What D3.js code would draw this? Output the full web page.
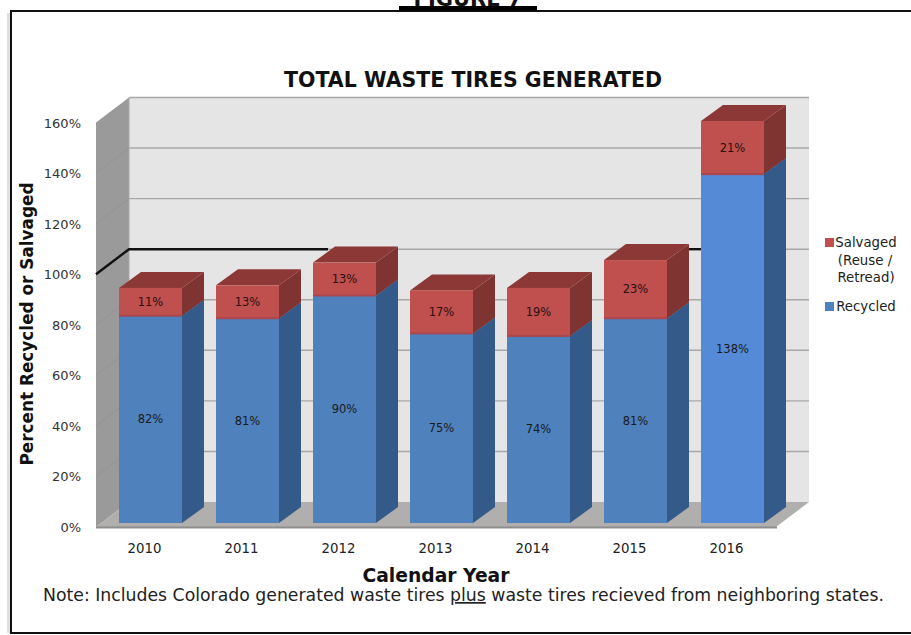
<!DOCTYPE html>
<html><head><meta charset="utf-8">
<script src="https://cdn.jsdelivr.net/npm/d3@7"></script>
<style>html,body{margin:0;padding:0;background:#fff;overflow:hidden}svg{display:block}text{font-family:"DejaVu Sans",sans-serif}</style>
</head><body><svg id="c" width="911" height="635"></svg>
<script>
const years=["2010","2011","2012","2013","2014","2015","2016"];
const recycled=[82,81,90,75,74,81,138];
const salvaged=[11,13,13,17,19,23,21];
const yTicks=[0,20,40,60,80,100,120,140,160];
const targetValue=100;
const svg=d3.select("#c");
const W={l:96,r:776};
const y=d3.scaleLinear().domain([0,160]).range([527,122.5]);
const backY=v=>y(v)-25;
const barY=v=>y(v)-4;
const x=d3.scaleBand().domain(years).range([119,764]).paddingInner(0.3505).paddingOuter(0);
const bd={x:22,y:16};
const poly=(pts,fill)=>svg.append("polygon").attr("points",pts.map(p=>p.join(",")).join(" ")).attr("fill",fill);
// frame
svg.append("rect").attr("x",7).attr("y",13).attr("width",3).attr("height",620).attr("fill","#ccc").attr("opacity",.6);
svg.append("rect").attr("x",11).attr("y",11).attr("width",910).attr("height",622).attr("fill","#fff").attr("stroke","#111").attr("stroke-width",2);
// clipped figure heading
svg.append("text").attr("x",468).attr("y",6).attr("text-anchor","middle").attr("font-size",21).attr("font-weight",700).attr("fill","#111").text("FIGURE 7");
svg.append("rect").attr("x",399).attr("y",6).attr("width",138).attr("height",4.5).attr("fill","#000");
// walls
poly([[129,y(160)-25],[809,y(160)-25],[809,backY(0)],[129,backY(0)]],"#e5e5e5");
poly([[96,y(160)],[129,y(160)-25],[129,backY(0)],[96,y(0)]],"#9a9a9a");
poly([[96,y(0)],[129,backY(0)],[809,backY(0)],[776,y(0)]],"#b0afad");
svg.append("rect").attr("x",96).attr("y",y(0)-.5).attr("width",681).attr("height",2).attr("fill","#8d8d8d");
// gridlines
yTicks.forEach(t=>{
  if(t>0) svg.append("line").attr("x1",129).attr("x2",809).attr("y1",backY(t)).attr("y2",backY(t)).attr("stroke","#a8a8a8").attr("stroke-width",1.4);
  if(t>0&&t<160&&t!==targetValue) svg.append("line").attr("x1",96).attr("x2",129).attr("y1",y(t)).attr("y2",backY(t)).attr("stroke","#8d8d8d").attr("stroke-width",.6).attr("opacity",.7);
});
svg.append("line").attr("x1",129).attr("x2",129).attr("y1",backY(160)).attr("y2",backY(0)).attr("stroke","#a8a8a8");
// 100% reference line, visible left of 2012 and between 2015/2016
const line=d3.line();
svg.append("path").attr("d",line([[96,y(targetValue)],[129,backY(targetValue)],[x("2012")+15,backY(targetValue)]])).attr("fill","none").attr("stroke","#111").attr("stroke-width",2.4);
// bars
const bw=x.bandwidth();
function box(x0,v0,v1,front,side,top){
  const y0=barY(v0),y1=barY(v1),x1=x0+bw;
  poly([[x1,y0],[x1+bd.x,y0-bd.y],[x1+bd.x,y1-bd.y],[x1,y1]],side);
  poly([[x0,y1],[x1,y1],[x1+bd.x,y1-bd.y],[x0+bd.x,y1-bd.y]],top);
  svg.append("rect").attr("x",x0).attr("y",y1).attr("width",bw).attr("height",y0-y1).attr("fill",front);
}
svg.append("path").attr("d",line([[x("2015")+bw+bd.x,backY(targetValue)],[x("2016"),backY(targetValue)]])).attr("fill","none").attr("stroke","#111").attr("stroke-width",2.4);
years.forEach((yr,i)=>{
  const x0=x(yr), r=recycled[i], s=salvaged[i];
  box(x0,0,r,i===6?"#548ad6":"#4f81bd","#345a8a","#345a8a");
  box(x0,r,r+s,"#c0504d","#7f3432","#8c3836");
  svg.append("rect").attr("x",x0).attr("y",barY(r)-1).attr("width",bw).attr("height",2).attr("fill","#a9464f");
  svg.append("text").attr("x",x0+bw/2).attr("y",barY(r/2)+4).attr("text-anchor","middle").attr("font-size",11.5).attr("fill","#1a1a1a").text(r+"%");
  svg.append("text").attr("x",x0+bw/2).attr("y",barY(r+s/2)+4).attr("text-anchor","middle").attr("font-size",11.5).attr("fill","#2a0f0f").text(s+"%");
  svg.append("text").attr("x",x0+bw/2-6).attr("y",553).attr("text-anchor","middle").attr("font-size",13.3).attr("fill","#222").text(yr);
});
// y tick labels
yTicks.forEach(t=>svg.append("text").attr("x",81).attr("y",y(t)+5).attr("text-anchor","end").attr("font-size",13).attr("fill","#333").text(t+"%"));
// titles
svg.append("text").attr("x",473).attr("y",87).attr("text-anchor","middle").attr("font-size",22).attr("font-weight",700).attr("fill","#111").attr("textLength",378).attr("lengthAdjust","spacingAndGlyphs").text("TOTAL WASTE TIRES GENERATED");
svg.append("text").attr("transform","translate(33,324) rotate(-90)").attr("text-anchor","middle").attr("font-size",18.5).attr("font-weight",700).attr("fill","#111").attr("textLength",283).attr("lengthAdjust","spacingAndGlyphs").text("Percent Recycled or Salvaged");
svg.append("text").attr("x",436).attr("y",582).attr("text-anchor","middle").attr("font-size",19).attr("font-weight",700).attr("fill","#111").attr("textLength",147).attr("lengthAdjust","spacingAndGlyphs").text("Calendar Year");
const note=svg.append("text").attr("x",43).attr("y",601).attr("font-size",17).attr("fill","#222").attr("textLength",841).attr("lengthAdjust","spacingAndGlyphs");
note.append("tspan").text("Note: Includes Colorado generated waste tires ");
note.append("tspan").attr("text-decoration","underline").text("plus");
note.append("tspan").text(" waste tires recieved from neighboring states.");
// legend
svg.append("rect").attr("x",825).attr("y",238).attr("width",9).attr("height",9).attr("fill","#c0504d");
svg.append("rect").attr("x",825).attr("y",302).attr("width",9).attr("height",9).attr("fill","#4f81bd");
[["Salvaged",247,866],["(Reuse /",265,865],["Retread)",282,866],["Recycled",311,866]].forEach(d=>
  svg.append("text").attr("x",d[2]).attr("y",d[1]).attr("text-anchor","middle").attr("font-size",13.3).attr("fill","#222").text(d[0]));
</script></body></html>
